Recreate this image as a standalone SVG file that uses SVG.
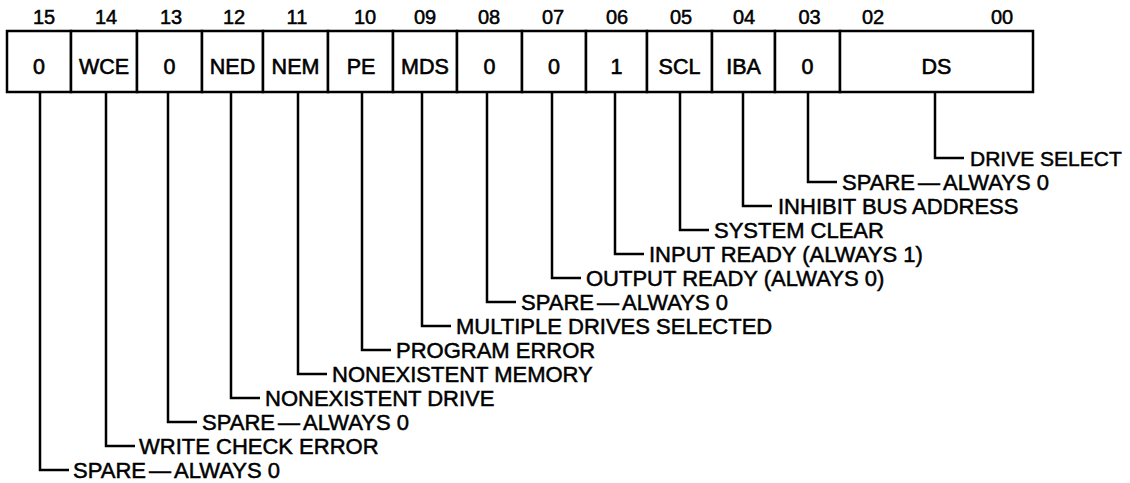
<svg xmlns="http://www.w3.org/2000/svg" width="1130" height="483" viewBox="0 0 1130 483">
<style>
.cell{fill:#fff;stroke:#000;stroke-width:2.5}
.num{font-family:"Liberation Sans",Arial,sans-serif;font-size:20px;text-anchor:middle;fill:#000;stroke:#000;stroke-width:0.5}
.ct{font-family:"Liberation Sans",Arial,sans-serif;font-size:21.5px;text-anchor:middle;fill:#000;stroke:#000;stroke-width:0.6}
.lb{font-family:"Liberation Sans",Arial,sans-serif;font-size:22px;fill:#000;stroke:#000;stroke-width:0.5}
.ld{fill:none;stroke:#000;stroke-width:2.5}
</style>
<rect width="1130" height="483" fill="#fff"/>
<g id="bit15"><rect class="cell" x="7" y="31" width="64" height="61"/><text class="num" x="44" y="24">15</text><text class="ct" x="39" y="73.5">0</text></g>
<g id="bit14"><rect class="cell" x="71" y="31" width="66" height="61"/><text class="num" x="106" y="24">14</text><text class="ct" x="104" y="73.5">WCE</text></g>
<g id="bit13"><rect class="cell" x="137" y="31" width="65" height="61"/><text class="num" x="171" y="24">13</text><text class="ct" x="169.5" y="73.5">0</text></g>
<g id="bit12"><rect class="cell" x="202" y="31" width="61" height="61"/><text class="num" x="234" y="24">12</text><text class="ct" x="232.5" y="73.5">NED</text></g>
<g id="bit11"><rect class="cell" x="263" y="31" width="65" height="61"/><text class="num" x="297" y="24">11</text><text class="ct" x="295.5" y="73.5">NEM</text></g>
<g id="bit10"><rect class="cell" x="328" y="31" width="65" height="61"/><text class="num" x="365" y="24">10</text><text class="ct" x="361" y="73.5">PE</text></g>
<g id="bit09"><rect class="cell" x="393" y="31" width="64" height="61"/><text class="num" x="425" y="24">09</text><text class="ct" x="425" y="73.5">MDS</text></g>
<g id="bit08"><rect class="cell" x="457" y="31" width="65" height="61"/><text class="num" x="489" y="24">08</text><text class="ct" x="489.5" y="73.5">0</text></g>
<g id="bit07"><rect class="cell" x="522" y="31" width="64" height="61"/><text class="num" x="553" y="24">07</text><text class="ct" x="554" y="73.5">0</text></g>
<g id="bit06"><rect class="cell" x="586" y="31" width="61" height="61"/><text class="num" x="617" y="24">06</text><text class="ct" x="616.5" y="73.5">1</text></g>
<g id="bit05"><rect class="cell" x="647" y="31" width="65" height="61"/><text class="num" x="681" y="24">05</text><text class="ct" x="679.5" y="73.5">SCL</text></g>
<g id="bit04"><rect class="cell" x="712" y="31" width="63" height="61"/><text class="num" x="744" y="24">04</text><text class="ct" x="743.5" y="73.5">IBA</text></g>
<g id="bit03"><rect class="cell" x="775" y="31" width="65" height="61"/><text class="num" x="809.5" y="24">03</text><text class="ct" x="807.5" y="73.5">0</text></g>
<g id="bit02-00"><rect class="cell" x="840" y="31" width="193" height="61"/><text class="num" x="873" y="24">02</text><text class="num" x="1002" y="24">00</text><text class="ct" x="936.5" y="73.5">DS</text></g>
<g id="connectors">
<path class="ld" d="M935 92V158H964"/>
<path class="ld" d="M808 92V182H837"/>
<path class="ld" d="M743 92V206H772"/>
<path class="ld" d="M680 92V230H709"/>
<path class="ld" d="M615 92V254H644"/>
<path class="ld" d="M552 92V278H581"/>
<path class="ld" d="M487 92V302H516"/>
<path class="ld" d="M422 92V326H451"/>
<path class="ld" d="M362 92V350H391"/>
<path class="ld" d="M298 92V374H327"/>
<path class="ld" d="M231 92V398H260"/>
<path class="ld" d="M168 92V422H197"/>
<path class="ld" d="M106 92V446H135"/>
<path class="ld" d="M40 92V470H69"/>
</g>
<g id="label00"><text class="lb" x="970" y="165.5" style="font-size:21px">DRIVE SELECT</text></g>
<g id="label03"><text class="lb" x="842" y="189.5">SPARE<tspan dx="3">—</tspan><tspan dx="3">ALWAYS 0</tspan></text></g>
<g id="label04"><text class="lb" x="778" y="213.5">INHIBIT BUS ADDRESS</text></g>
<g id="label05"><text class="lb" x="714" y="237.5">SYSTEM CLEAR</text></g>
<g id="label06"><text class="lb" x="649" y="261.5">INPUT READY (ALWAYS 1)</text></g>
<g id="label07"><text class="lb" x="586" y="285.5">OUTPUT READY (ALWAYS 0)</text></g>
<g id="label08"><text class="lb" x="521" y="309.5">SPARE<tspan dx="3">—</tspan><tspan dx="3">ALWAYS 0</tspan></text></g>
<g id="label09"><text class="lb" x="456" y="333.5">MULTIPLE DRIVES SELECTED</text></g>
<g id="label10"><text class="lb" x="396" y="357.5">PROGRAM ERROR</text></g>
<g id="label11"><text class="lb" x="332" y="381.5">NONEXISTENT MEMORY</text></g>
<g id="label12"><text class="lb" x="265" y="405.5">NONEXISTENT DRIVE</text></g>
<g id="label13"><text class="lb" x="202" y="429.5">SPARE<tspan dx="3">—</tspan><tspan dx="3">ALWAYS 0</tspan></text></g>
<g id="label14"><text class="lb" x="139" y="453.5">WRITE CHECK ERROR</text></g>
<g id="label15"><text class="lb" x="73" y="477.5">SPARE<tspan dx="3">—</tspan><tspan dx="3">ALWAYS 0</tspan></text></g>
</svg>
